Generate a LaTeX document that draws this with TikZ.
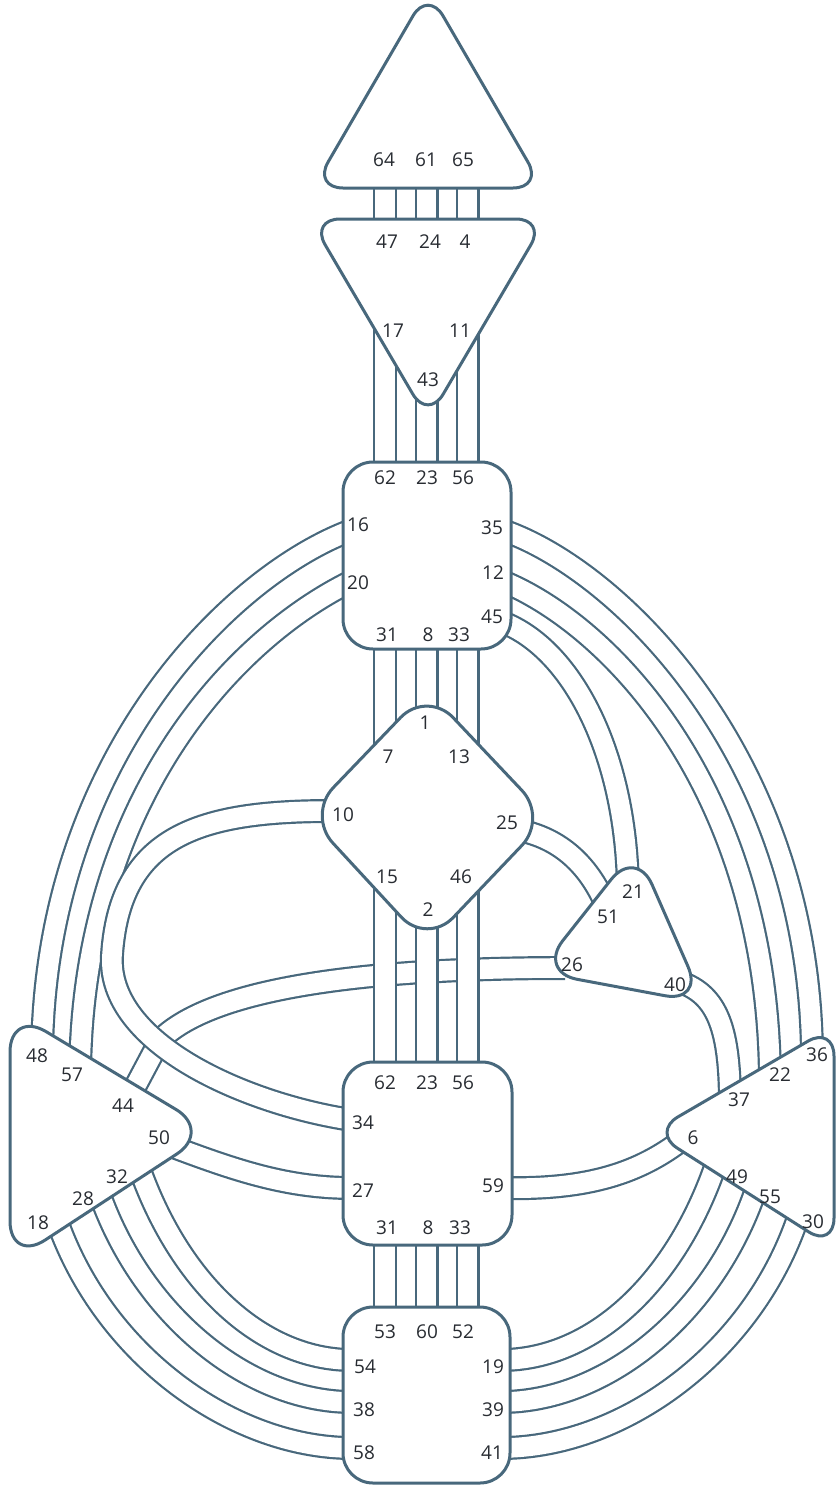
\documentclass[tikz,border=0pt]{standalone}
\usepackage{fontspec}
\setmainfont{Open Sans}
\definecolor{lc}{RGB}{72,104,124}
\definecolor{tc}{RGB}{40,44,50}
\tikzset{
  tube/.style={draw=lc, line width=2.2pt, double=white, double distance=19.6pt},
  ctr/.style={draw=lc, line width=3pt, fill=white, line join=round},
  gate/.style={font=\fontsize{19}{19}\selectfont, text=tc, inner sep=0pt},
}
\begin{document}
\begin{tikzpicture}[x=1pt,y=-1pt]
\useasboundingbox (0,0) rectangle (836,1486);
% ---- gate coordinates ----
\coordinate (c64) at (385,160); \coordinate (c61) at (426.5,160); \coordinate (c65) at (467.5,160);
\coordinate (c47) at (385,240); \coordinate (c24) at (426.5,240); \coordinate (c4) at (467.5,240);
\coordinate (c17) at (385,320); \coordinate (c43) at (426.5,380); \coordinate (c11) at (467.5,320);
\coordinate (t62) at (385,480); \coordinate (t23) at (426.5,480); \coordinate (t56) at (467.5,480);
\coordinate (t31) at (385,630); \coordinate (t8) at (426.5,630); \coordinate (t33) at (467.5,630);
\coordinate (g7) at (385,770); \coordinate (g1) at (426.5,730); \coordinate (g13) at (467.5,770);
\coordinate (g15) at (385,870); \coordinate (g2) at (426.5,910); \coordinate (g46) at (467.5,870);
\coordinate (s62) at (385,1080); \coordinate (s23) at (426.5,1080); \coordinate (s56) at (467.5,1080);
\coordinate (s31) at (385,1225); \coordinate (s8) at (426.5,1225); \coordinate (s33) at (467.5,1225);
\coordinate (r53) at (385,1325); \coordinate (r60) at (426.5,1325); \coordinate (r52) at (467.5,1325);
\coordinate (t16) at (352,530); \coordinate (t20) at (352,581);
\coordinate (t35) at (502,530); \coordinate (t12) at (502,581); \coordinate (t45) at (502,622);
\coordinate (sp48) at (42,1060); \coordinate (sp57) at (80,1080); \coordinate (sp44) at (126,1104);
\coordinate (sp50) at (176,1148); \coordinate (sp32) at (135,1155); \coordinate (sp28) at (95,1180);
\coordinate (sp18) at (52,1205);
\coordinate (g10) at (332,811); \coordinate (g25) at (518,830);
\coordinate (e21) at (628,895); \coordinate (e51) at (608,910); \coordinate (e26) at (565,968);
\coordinate (e40) at (680,982);
\coordinate (so36) at (812,1060); \coordinate (so22) at (770,1085); \coordinate (so37) at (730,1105);
\coordinate (so6) at (682,1140); \coordinate (so49) at (719,1155); \coordinate (so55) at (759,1180);
\coordinate (so30) at (802,1205);
\coordinate (s34) at (352,1120); \coordinate (s27) at (352,1188); \coordinate (s59) at (503,1188);
\coordinate (r54) at (352,1360); \coordinate (r38) at (352,1402); \coordinate (r58) at (352,1448);
\coordinate (r19) at (501,1360); \coordinate (r39) at (501,1402); \coordinate (r41) at (501,1448);
% ---- channels ----
\draw[tube] (e26) .. controls (380,968) and (215,985) .. (160,1040) -- (sp44);
% vertical channels
\draw[tube] (c64) -- (c47); \draw[tube] (c61) -- (c24); \draw[tube] (c65) -- (c4);
\draw[tube] (c17) -- (t62); \draw[tube] (c43) -- (t23); \draw[tube] (c11) -- (t56);
\draw[tube] (t31) -- (g7); \draw[tube] (t8) -- (g1); \draw[tube] (t33) -- (g13);
\draw[tube] (g15) -- (s62); \draw[tube] (g2) -- (s23); \draw[tube] (g46) -- (s56);
\draw[tube] (s31) -- (r53); \draw[tube] (s8) -- (r60); \draw[tube] (s33) -- (r52);
% throat to spleen
\draw[tube] (t16) .. controls (230,575) and (42,760) .. (sp48);
\draw[tube] (t20) .. controls (235,638) and (80,800) .. (sp57);
% G 10 to sacral 34
\draw[tube] (g10) .. controls (200,811) and (120,835) .. (112,955)
   .. controls (106,1045) and (250,1105) .. (s34);
% throat to solar plexus / ego
\draw[tube] (t35) .. controls (620,570) and (812,760) .. (so36);
\draw[tube] (t12) .. controls (610,625) and (770,790) .. (so22);
\draw[tube] (t45) .. controls (575,650) and (628,760) .. (e21);
\draw[tube] (g25) .. controls (560,838) and (590,865) .. (e51);
\draw[tube] (e40) .. controls (718,995) and (730,1030) .. (so37);
\draw[tube] (s59) .. controls (590,1190) and (640,1172) .. (so6);
\draw[tube] (sp50) .. controls (240,1172) and (290,1188) .. (s27);
% root channels
\draw[tube] (sp18) .. controls (95,1350) and (230,1448) .. (r58);
\draw[tube] (sp28) .. controls (135,1310) and (245,1402) .. (r38);
\draw[tube] (sp32) .. controls (175,1280) and (260,1360) .. (r54);
\draw[tube] (so30) .. controls (759,1350) and (624,1448) .. (r41);
\draw[tube] (so55) .. controls (719,1310) and (609,1402) .. (r39);
\draw[tube] (so49) .. controls (679,1280) and (594,1360) .. (r19);
% ---- centres ----
\draw[ctr, rounded corners=30] (313,188) -- (428,-10) -- (543,188) -- cycle;
\draw[ctr, rounded corners=30] (310,219) -- (546,219) -- (428,420) -- cycle;
\draw[ctr, rounded corners=30] (343,462) rectangle (511,649);
\draw[ctr, rounded corners=38] (427,690) -- (548,818) -- (427,945) -- (307,815) -- cycle;
\draw[ctr, rounded corners=40] (636,848) -- (704,1003) -- (538,972) -- cycle;
\draw[ctr, rounded corners=42] (10,1010) -- (212,1131) -- (10,1263) -- cycle;
\draw[ctr, rounded corners=30] (652,1132) -- (834,1026) -- (834,1248) -- cycle;
\draw[ctr, rounded corners=30] (343,1062) rectangle (512,1245);
\draw[ctr, rounded corners=30] (343,1307) rectangle (510,1483);
% ---- labels ----
\node[gate] (n64) at (384,160) {64}; \node[gate] (n61) at (426,160) {61}; \node[gate] (n65) at (463,160) {65};
\node[gate] (n47) at (387,242) {47}; \node[gate] (n24) at (430,242) {24}; \node[gate] (n4) at (465,242) {4};
\node[gate] (n17) at (393,331) {17}; \node[gate] (n11) at (460,331) {11}; \node[gate] (n43) at (428,380) {43};
\node[gate] (m62) at (385,478) {62}; \node[gate] (m23) at (427,478) {23}; \node[gate] (m56) at (463,478) {56};
\node[gate] (n16) at (358,525) {16}; \node[gate] (n20) at (358,583) {20};
\node[gate] (n35) at (492,528) {35}; \node[gate] (n12) at (493,573) {12}; \node[gate] (n45) at (492,617) {45};
\node[gate] (m31) at (387,635) {31}; \node[gate] (m8) at (428,635) {8}; \node[gate] (m33) at (459,635) {33};
\node[gate] (n1) at (425,723) {1}; \node[gate] (n7) at (388,757) {7}; \node[gate] (n13) at (459,757) {13};
\node[gate] (n10) at (343,815) {10}; \node[gate] (n25) at (507,823) {25};
\node[gate] (n15) at (387,877) {15}; \node[gate] (n46) at (461,877) {46}; \node[gate] (n2) at (428,910) {2};
\node[gate] (n21) at (633,892) {21}; \node[gate] (n51) at (608,917) {51}; \node[gate] (n26) at (572,965) {26};
\node[gate] (n40) at (675,985) {40};
\node[gate] (n48) at (37,1056) {48}; \node[gate] (n57) at (72,1075) {57}; \node[gate] (n44) at (123,1106) {44};
\node[gate] (n50) at (159,1138) {50}; \node[gate] (n32) at (117,1177) {32}; \node[gate] (n28) at (83,1199) {28};
\node[gate] (n18) at (38,1223) {18};
\node[gate] (n36) at (817,1055) {36}; \node[gate] (n22) at (780,1075) {22}; \node[gate] (n37) at (739,1100) {37};
\node[gate] (n6) at (693,1138) {6}; \node[gate] (n49) at (737,1177) {49}; \node[gate] (n55) at (770,1197) {55};
\node[gate] (n30) at (813,1222) {30};
\node[gate] (k62) at (385,1083) {62}; \node[gate] (k23) at (427,1083) {23}; \node[gate] (k56) at (463,1083) {56};
\node[gate] (n34) at (363,1123) {34}; \node[gate] (n27) at (363,1191) {27}; \node[gate] (n59) at (493,1186) {59};
\node[gate] (k31) at (387,1228) {31}; \node[gate] (k8) at (428,1228) {8}; \node[gate] (k33) at (460,1228) {33};
\node[gate] (n53) at (385,1332) {53}; \node[gate] (n60) at (427,1332) {60}; \node[gate] (n52) at (463,1332) {52};
\node[gate] (n54) at (365,1367) {54}; \node[gate] (n38) at (364,1410) {38}; \node[gate] (n58) at (364,1453) {58};
\node[gate] (n19) at (493,1367) {19}; \node[gate] (n39) at (493,1410) {39}; \node[gate] (n41) at (492,1453) {41};
\end{tikzpicture}
\end{document}
